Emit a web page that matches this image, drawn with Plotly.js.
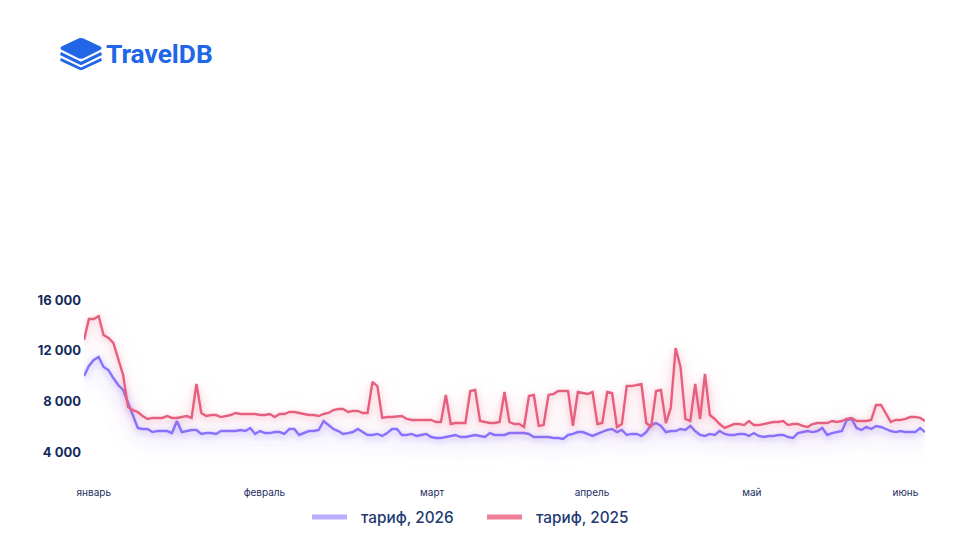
<!DOCTYPE html>
<html>
<head>
<meta charset="utf-8">
<script src="https://cdn.plot.ly/plotly-3.0.1.min.js"></script>
<style>
html,body{margin:0;padding:0;background:#fff;}
#chart{width:960px;height:540px;}
.scatterlayer .trace:nth-child(1) path.js-line{filter:blur(.5px) drop-shadow(0 2px 3px rgba(120,100,255,.45)) drop-shadow(0 7px 10px rgba(120,100,255,.35));}
.scatterlayer .trace:nth-child(2) path.js-line{filter:blur(.5px) drop-shadow(0 2px 3px rgba(235,90,125,.4)) drop-shadow(0 7px 10px rgba(235,90,125,.3));}
.legend .legendtext{transform:translateX(9px);}
</style>
</head>
<body>
<div id="chart"></div>
<script>
const tariff2026 = [
10020,10810,11280,11520,10730,10490,9860,9310,8920,7900,
6790,5930,5850,5850,5610,5690,5690,5690,5530,6480,
5610,5690,5770,5770,5460,5530,5530,5460,5690,5690,
5690,5690,5770,5690,5930,5460,5690,5530,5530,5610,
5610,5460,5850,5850,5380,5530,5690,5690,5770,6480,
6160,5850,5690,5460,5530,5610,5850,5610,5380,5380,
5460,5300,5530,5850,5850,5380,5380,5460,5300,5380,
5460,5220,5140,5140,5220,5300,5380,5220,5220,5300,
5380,5300,5220,5530,5380,5380,5380,5530,5530,5530,
5530,5460,5220,5220,5220,5220,5140,5140,5060,5380,
5460,5610,5610,5460,5300,5460,5610,5770,5850,5610,
5770,5380,5460,5460,5300,5610,6160,6320,6090,5610,
5690,5690,5850,5770,6090,5690,5380,5300,5460,5380,
5690,5460,5380,5380,5460,5460,5300,5530,5300,5220,
5300,5300,5380,5380,5220,5140,5530,5610,5690,5610,
5690,5930,5380,5530,5610,5690,6560,6640,5930,5770,
6010,5850,6090,6010,5850,5690,5610,5690,5610,5610,
5610,5930,5610];
const tariff2025 = [
12850,14510,14510,14740,13250,13010,12620,11280,10100,7580,
7340,7190,6870,6640,6720,6720,6720,6870,6720,6720,
6790,6870,6720,9390,7110,6870,6950,6950,6790,6870,
6950,7110,7030,7030,7030,7030,6950,6950,7030,6790,
7030,7030,7190,7190,7110,7030,6950,6950,6870,7030,
7110,7340,7420,7420,7190,7270,7270,7110,7110,9550,
9230,6720,6790,6790,6830,6870,6640,6560,6560,6560,
6560,6560,6400,6400,8530,6240,6320,6320,6320,8840,
8920,6480,6400,6320,6320,6400,8760,6400,6240,6240,
6010,8450,8530,6090,6160,8530,8600,8840,8840,8840,
6090,8760,8680,8600,8760,6240,6320,8760,8680,6010,
6240,9230,9230,9310,9390,6320,6010,8840,8920,6320,
7500,12220,10730,6640,6480,9390,6640,10180,6950,6640,
6240,5930,6090,6240,6240,6160,6480,6160,6160,6240,
6320,6400,6400,6480,6160,6240,6240,6090,6010,6240,
6320,6320,6320,6480,6400,6480,6640,6720,6480,6480,
6480,6560,7740,7740,7110,6400,6560,6560,6640,6790,
6790,6720,6480];
const dayIndex = tariff2026.map((_, i) => i);
const monthLabels = ["январь","февраль","март","апрель","май","июнь"];
const monthTicks = [2,36.9,71.2,103.9,136.6,168];
const yTicks = [4000,8000,12000,16000];
const yLabels = ["4 000","8 000","12 000","16 000"];
const seriesNames = ["тариф, 2026","тариф, 2025"];

const logoSvg = '<svg xmlns="http://www.w3.org/2000/svg" width="44" height="34" viewBox="0 0 44 34">'+
 '<path d="M20 .8 Q22 0 24 .8 L41.5 9.3 Q43.5 11 41.5 12.7 L24 21.6 Q22 22.4 20 21.6 L2.5 12.7 Q.5 11 2.5 9.3 Z" fill="#2266e8"/>'+
 '<path d="M2 15 L22 25 L42 15 L43 18 L23 28 Q22 28.5 21 28 L1 18 Z" fill="#2266e8"/>'+
 '<path d="M2 21 L22 31 L42 21 L43 24 L23 33.6 Q22 34 21 33.6 L1 24 Z" fill="#2266e8"/></svg>';

const traces = [
 {x:dayIndex,y:tariff2026,type:'scatter',mode:'lines',line:{color:'#8672ff',width:2.4},showlegend:false,hoverinfo:'skip'},
 {x:dayIndex,y:tariff2025,type:'scatter',mode:'lines',line:{color:'#e6607e',width:2.4},showlegend:false,hoverinfo:'skip'},
 {x:[null],y:[null],type:'scatter',mode:'lines',name:seriesNames[0],line:{color:'#b9affe',width:5},showlegend:true},
 {x:[null],y:[null],type:'scatter',mode:'lines',name:seriesNames[1],line:{color:'#ee7f97',width:5},showlegend:true}
];
const layout = {
 width:960,height:540,
 margin:{l:84,r:35,t:280,b:70},
 paper_bgcolor:'#fff',plot_bgcolor:'#fff',
 font:{family:'Inter, "Noto Sans", sans-serif',color:'#1b2f5e'},
 xaxis:{range:[0,172],tickmode:'array',tickvals:monthTicks,ticktext:monthLabels,showgrid:false,zeroline:false,showline:false,ticks:'',tickfont:{size:10,color:'#1b2f5e'},ticklabelstandoff:15},
 yaxis:{range:[2623,17576],tickmode:'array',tickvals:yTicks,ticktext:yLabels,showgrid:false,zeroline:false,showline:false,ticks:'',tickfont:{size:13,color:'#122a5c',weight:700},ticklabelstandoff:2},
 showlegend:true,
 legend:{orientation:'h',xref:'container',yref:'container',x:0.5021,xanchor:'center',y:0.0426,yanchor:'middle',itemwidth:35,font:{size:15.3,color:'#1e3a72',weight:500},traceorder:'normal',entrywidth:125,entrywidthmode:'pixels',itemclick:false,itemdoubleclick:false},
 images:[{source:'data:image/svg+xml;utf8,'+encodeURIComponent(logoSvg),xref:'paper',yref:'paper',x:(59-84)/841,y:1+(280-37.5)/190,sizex:44/841,sizey:33/190,xanchor:'left',yanchor:'top',sizing:'stretch',layer:'above'}],
 annotations:[{text:'<b>TravelDB</b>',xref:'paper',yref:'paper',x:(104-84)/841,y:1+(280-54)/190,xanchor:'left',yanchor:'middle',showarrow:false,font:{family:'Roboto, sans-serif',size:26.3,color:'#2266e8'}}]
};
Plotly.newPlot('chart',traces,layout,{displayModeBar:false,staticPlot:true});
</script>
</body>
</html>
